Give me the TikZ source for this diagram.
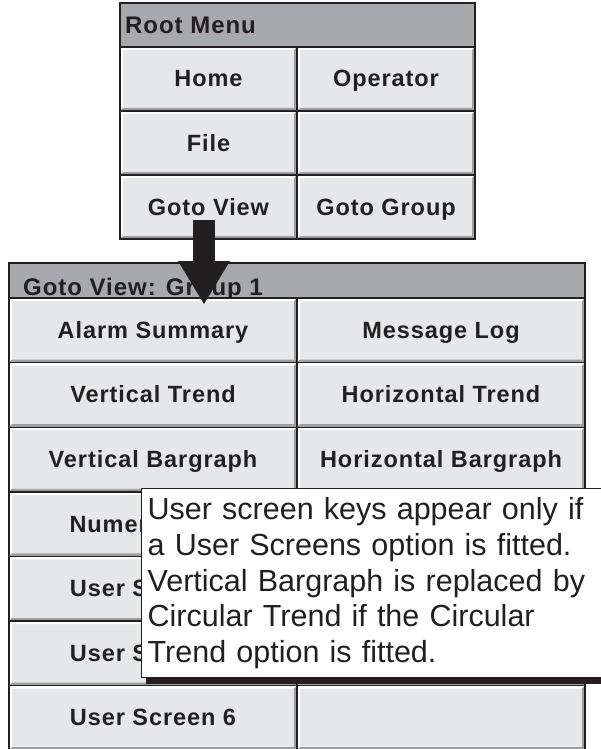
\documentclass[tikz,border=0pt]{standalone}
\usepackage{fontspec}
\setmainfont{Liberation Sans}
\newfontfamily\keyfont[LetterSpace=4]{Liberation Sans}
\usetikzlibrary{arrows.meta,shadows}

\definecolor{framedark}{HTML}{231F20}
\definecolor{titlegray}{HTML}{A7A9AC}
\definecolor{keyfill}{HTML}{E6E7E8}
\definecolor{keyshade}{HTML}{9D9FA2}

\tikzset{
  panel/.style={draw=framedark, fill=titlegray, line width=1.6pt},
  paneltitle/.style={anchor=base west, inner sep=0pt, text=framedark,
    font=\keyfont\bfseries\fontsize{24}{28}\selectfont},
  keylabel/.style={inner sep=0pt, text=framedark, text height=17pt, text depth=1pt,
    font=\keyfont\bfseries\fontsize{23.5}{26}\selectfont},
  menukey/.style={keylabel, draw=framedark, line width=1.4pt, fill=keyfill,
    path picture={
      \fill[white] (path picture bounding box.south west)
        -- (path picture bounding box.north west)
        -- (path picture bounding box.north east)
        -- ([shift={(-3pt,-3pt)}]path picture bounding box.north east)
        -- ([shift={(3pt,-3pt)}]path picture bounding box.north west)
        -- ([shift={(3pt,3pt)}]path picture bounding box.south west) -- cycle;
      \fill[keyshade] (path picture bounding box.south west)
        -- (path picture bounding box.south east)
        -- (path picture bounding box.north east)
        -- ([shift={(-3pt,-3pt)}]path picture bounding box.north east)
        -- ([shift={(-3pt,3pt)}]path picture bounding box.south east)
        -- ([shift={(3pt,3pt)}]path picture bounding box.south west) -- cycle;
    }},
  blockarrow/.style={framedark, line width=22pt,
    -{Triangle[width=52pt,length=43pt,line width=0pt]}},
  note/.style={draw=framedark, line width=1.4pt, fill=white, align=left,
    text width=456pt, minimum height=189pt, inner xsep=6pt, inner ysep=4pt,
    text=framedark, font=\fontsize{30.5}{35.8}\selectfont,
    drop shadow={fill=framedark, opacity=1, shadow xshift=4pt, shadow yshift=-6pt}},
}

\begin{document}
\begin{tikzpicture}[x=1pt,y=-1pt]
  \useasboundingbox (0,0) rectangle (601,749);
  \clip (0,0) rectangle (601,749);

  % root menu
  \draw[panel] (120,3) rectangle (475,239);
  \node[paneltitle] (root-title) at (125,34) {Root Menu};
  \foreach \lt/\rt [count=\i] in {Home/Operator, File/{}, Goto View/Goto Group} {
    \pgfmathsetmacro\yc{47+(\i-0.5)*64}
    \node[menukey, minimum width=177pt, minimum height=64pt] (root-l\i) at (208.5,\yc) {\lt};
    \node[menukey, minimum width=178pt, minimum height=64pt] (root-r\i) at (386,\yc) {\rt};
  }

  % goto view menu
  \draw[panel] (9,263) rectangle (585,770);
  \node[paneltitle] (view-title) at (23,295) {Goto View: Group 1};
  \foreach \lt/\rt [count=\i] in {Alarm Summary/Message Log,
      Vertical Trend/Horizontal Trend, Vertical Bargraph/Horizontal Bargraph,
      {}/{}, User Screen 2/{}, User Screen 4/{}, User Screen 6/{}} {
    \pgfmathsetmacro\yc{298+(\i-0.5)*64.6}
    \node[menukey, minimum width=288pt, minimum height=64.6pt] (view-l\i) at (153,\yc) {\lt};
    \node[menukey, minimum width=288pt, minimum height=64.6pt] (view-r\i) at (441,\yc) {\rt};
  }
  \node[keylabel, anchor=west] (view-l4-text) at ([xshift=61pt]view-l4.west) {Numeric};

  % arrow from Goto View
  \coordinate (arrowtop) at (204,220);
  \coordinate (arrowtip) at (204,304);
  \draw[blockarrow] (arrowtop) -- (arrowtip);

  % callout
  \node[note, anchor=north west] (note) at (141,488)
    {User screen keys appear only if\\
     a User Screens option is fitted.\\
     Vertical Bargraph is replaced by\\
     Circular Trend if the Circular\\
     Trend option is fitted.};
\end{tikzpicture}
\end{document}
